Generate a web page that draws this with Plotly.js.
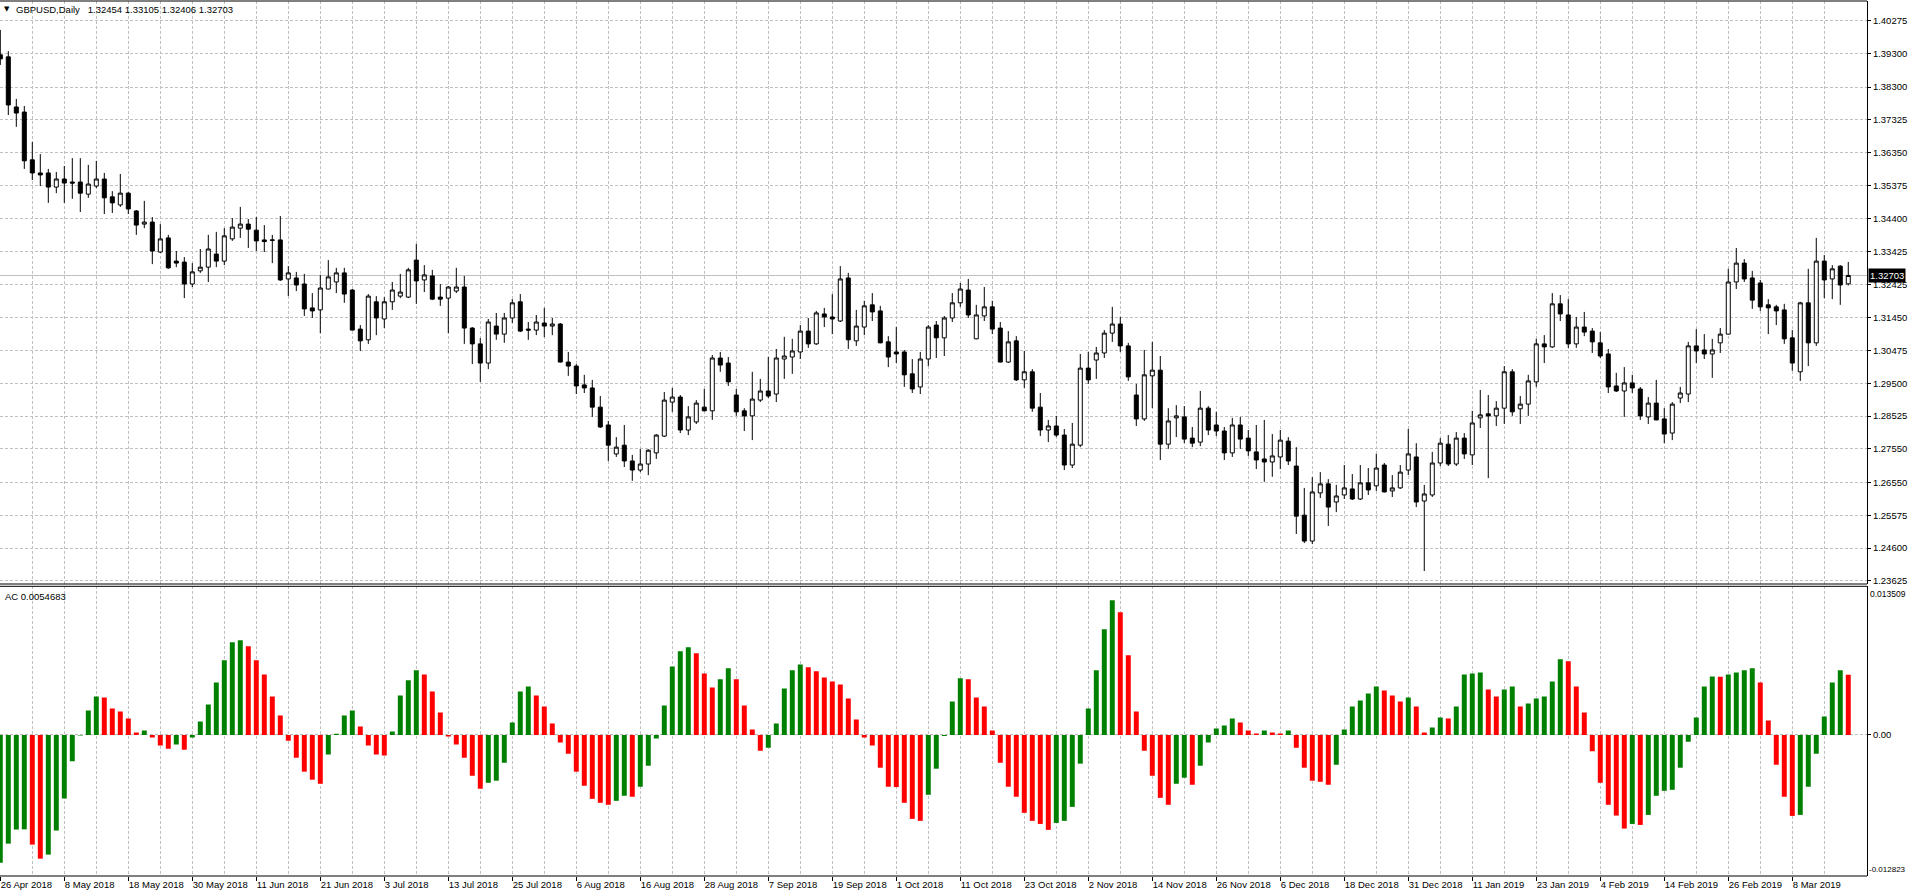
<!DOCTYPE html>
<html>
<head>
<meta charset="utf-8">
<script src="https://cdn.plot.ly/plotly-3.0.1.min.js"></script>
<style>html,body{margin:0;padding:0;background:#fff;}#chart{width:1909px;height:893px;}</style>
</head>
<body>
<div id="chart"></div>
<script>
// ---- data ----
const tickLabels = ["26 Apr 2018","8 May 2018","18 May 2018","30 May 2018","11 Jun 2018","21 Jun 2018","3 Jul 2018","13 Jul 2018","25 Jul 2018","6 Aug 2018","16 Aug 2018","28 Aug 2018","7 Sep 2018","19 Sep 2018","1 Oct 2018","11 Oct 2018","23 Oct 2018","2 Nov 2018","14 Nov 2018","26 Nov 2018","6 Dec 2018","18 Dec 2018","31 Dec 2018","11 Jan 2019","23 Jan 2019","4 Feb 2019","14 Feb 2019","26 Feb 2019","8 Mar 2019"];

const priceTicks = [1.40275,1.39300,1.38300,1.37325,1.36350,1.35375,1.34400,1.33425,1.32425,1.31450,1.30475,1.29500,1.28525,1.27550,1.26550,1.25575,1.24600,1.23625];

const open = [
1.3926,1.3920,1.3771,1.3756,1.3614,1.3575,1.3575,1.3533,1.3557,1.3548,
1.3548,1.3512,1.3536,1.3557,1.3504,1.3480,1.3515,1.3462,1.3423,1.3429,
1.3340,1.3382,1.3313,1.3310,1.3245,1.3284,1.3295,1.3334,1.3313,1.3379,
1.3411,1.3423,1.3405,1.3376,1.3376,1.3376,1.3260,1.3263,1.3245,1.3174,
1.3168,1.3230,1.3251,1.3278,1.3227,1.3111,1.3079,1.3192,1.3141,1.3192,
1.3209,1.3206,1.3316,1.3257,1.3269,1.3206,1.3203,1.3224,1.3236,1.3114,
1.3067,1.3010,1.3120,1.3096,1.3144,1.3192,1.3111,1.3108,1.3129,1.3120,
1.3126,1.3013,1.3001,1.2945,1.2936,1.2879,1.2826,1.2740,1.2766,1.2719,
1.2692,1.2710,1.2743,1.2793,1.2894,1.2909,1.2811,1.2835,1.2879,1.2868,
1.3025,1.3010,1.2915,1.2868,1.2853,1.2900,1.2927,1.2918,1.3022,1.3028,
1.3043,1.3105,1.3067,1.3156,1.3147,1.3135,1.3263,1.3076,1.3117,1.3183,
1.3165,1.3073,1.3043,1.3043,1.2978,1.2939,1.3022,1.3123,1.3085,1.3144,
1.3189,1.3227,1.3082,1.3150,1.3177,1.3114,1.3013,1.3076,1.2960,1.2984,
1.2879,1.2811,1.2823,1.2796,1.2707,1.2766,1.2995,1.3019,1.3040,1.3099,
1.3126,1.3061,1.2915,1.2844,1.2972,1.2989,1.2769,1.2847,1.2850,1.2787,
1.2775,1.2876,1.2826,1.2808,1.2743,1.2826,1.2787,1.2746,1.2725,1.2716,
1.2731,1.2778,1.2704,1.2558,1.2481,1.2624,1.2651,1.2597,1.2618,1.2636,
1.2606,1.2654,1.2645,1.2707,1.2630,1.2639,1.2692,1.2731,1.2600,1.2618,
1.2713,1.2769,1.2710,1.2787,1.2737,1.2847,1.2859,1.2853,1.2876,1.2984,
1.2874,1.2888,1.2954,1.3067,1.3058,1.3186,1.3153,1.3067,1.3117,1.3105,
1.3070,1.3037,1.2942,1.2927,1.2951,1.2933,1.2850,1.2891,1.2844,1.2802,
1.2906,1.2918,1.3061,1.3049,1.3037,1.3070,1.3096,1.3251,1.3307,1.3263,
1.3248,1.3183,1.3177,1.3168,1.3085,1.2984,1.3189,1.3070,1.3313,1.3260,
1.3298,1.32454];

const high = [
1.4000,1.3937,1.3795,1.3774,1.3667,1.3631,1.3587,1.3578,1.3596,1.3619,
1.3619,1.3599,1.3611,1.3575,1.3521,1.3572,1.3518,1.3465,1.3492,1.3444,
1.3423,1.3391,1.3343,1.3325,1.3307,1.3349,1.3391,1.3400,1.3411,1.3441,
1.3474,1.3438,1.3444,1.3420,1.3391,1.3447,1.3298,1.3281,1.3275,1.3218,
1.3272,1.3316,1.3293,1.3293,1.3230,1.3123,1.3215,1.3209,1.3206,1.3251,
1.3275,1.3293,1.3364,1.3301,1.3287,1.3245,1.3239,1.3293,1.3269,1.3117,
1.3084,1.3141,1.3159,1.3159,1.3200,1.3215,1.3132,1.3153,1.3174,1.3144,
1.3129,1.3043,1.3007,1.2975,1.2960,1.2912,1.2838,1.2790,1.2826,1.2737,
1.2755,1.2754,1.2799,1.2924,1.2936,1.2915,1.2882,1.2900,1.2933,1.3034,
1.3043,1.3028,1.2933,1.2876,1.2984,1.2963,1.3028,1.3052,1.3088,1.3082,
1.3123,1.3144,1.3165,1.3174,1.3215,1.3298,1.3278,1.3168,1.3195,1.3218,
1.3180,1.3090,1.3117,1.3049,1.3022,1.3043,1.3123,1.3135,1.3150,1.3218,
1.3248,1.3260,1.3183,1.3236,1.3195,1.3132,1.3105,1.3090,1.3046,1.2992,
1.2921,1.2841,1.2853,1.2814,1.2832,1.3037,1.3043,1.3058,1.3108,1.3177,
1.3147,1.3070,1.2948,1.3049,1.3073,1.3031,1.2876,1.2885,1.2882,1.2820,
1.2927,1.2882,1.2865,1.2820,1.2847,1.2850,1.2811,1.2826,1.2841,1.2799,
1.2811,1.2790,1.2760,1.2639,1.2671,1.2686,1.2665,1.2648,1.2707,1.2680,
1.2707,1.2698,1.2740,1.2713,1.2677,1.2707,1.2814,1.2772,1.2648,1.2746,
1.2787,1.2796,1.2805,1.2802,1.2868,1.2930,1.2915,1.2897,1.3001,1.2992,
1.2912,1.2975,1.3082,1.3093,1.3218,1.3212,1.3200,1.3147,1.3162,1.3114,
1.3102,1.3052,1.2981,1.2998,1.2975,1.2939,1.2909,1.2960,1.2876,1.2894,
1.2939,1.3073,1.3111,1.3096,1.3082,1.3114,1.3290,1.3352,1.3319,1.3284,
1.3257,1.3200,1.3183,1.3186,1.3108,1.3192,1.3290,1.3382,1.3331,1.3301,
1.3301,1.33105];

const low = [
1.3896,1.3747,1.3712,1.3587,1.3554,1.3536,1.3486,1.3515,1.3486,1.3498,
1.3459,1.3501,1.3530,1.3453,1.3456,1.3474,1.3453,1.3391,1.3411,1.3304,
1.3337,1.3290,1.3295,1.3203,1.3236,1.3278,1.3251,1.3295,1.3301,1.3373,
1.3382,1.3352,1.3343,1.3340,1.3307,1.3254,1.3209,1.3224,1.3150,1.3144,
1.3099,1.3229,1.3218,1.3189,1.3107,1.3046,1.3067,1.3093,1.3114,1.3168,
1.3203,1.3203,1.3186,1.3221,1.3197,1.3180,1.3099,1.3218,1.3067,1.3007,
1.2954,1.2992,1.3079,1.3070,1.3129,1.3102,1.3079,1.3093,1.3087,1.3093,
1.3012,1.2972,1.2918,1.2921,1.2850,1.2817,1.2719,1.2731,1.2701,1.2660,
1.2686,1.2677,1.2725,1.2790,1.2865,1.2802,1.2796,1.2829,1.2867,1.2841,
1.2984,1.2942,1.2853,1.2808,1.2781,1.2894,1.2906,1.2894,1.2963,1.2978,
1.3022,1.3055,1.3064,1.3117,1.3096,1.3132,1.3052,1.3061,1.3093,1.3135,
1.3069,1.2998,1.3010,1.2939,1.2921,1.2918,1.3001,1.3025,1.3031,1.3132,
1.3177,1.3144,1.3081,1.3135,1.3096,1.3012,1.3010,1.2957,1.2936,1.2865,
1.2793,1.2775,1.2790,1.2692,1.2698,1.2760,1.2948,1.2963,1.3025,1.3073,
1.3043,1.2957,1.2823,1.2838,1.2876,1.2722,1.2755,1.2790,1.2772,1.2760,
1.2763,1.2796,1.2793,1.2722,1.2731,1.2755,1.2734,1.2695,1.2657,1.2672,
1.2695,1.2707,1.2502,1.2475,1.2472,1.2609,1.2526,1.2567,1.2606,1.2603,
1.2603,1.2618,1.2630,1.2626,1.2612,1.2636,1.2677,1.2582,1.2392,1.2612,
1.2704,1.2704,1.2704,1.2725,1.2707,1.2817,1.2668,1.2823,1.2829,1.2853,
1.2829,1.2853,1.2939,1.3010,1.3055,1.3135,1.3055,1.3055,1.3090,1.3040,
1.3025,1.2921,1.2924,1.2850,1.2921,1.2841,1.2829,1.2840,1.2772,1.2781,
1.2891,1.2894,1.3010,1.3022,1.2966,1.3040,1.3095,1.3230,1.3251,1.3171,
1.3165,1.3096,1.3123,1.3067,1.2987,1.2957,1.3001,1.3061,1.3203,1.3200,
1.3183,1.32406];

const close = [
1.3914,1.3777,1.3753,1.3611,1.3575,1.3569,1.3533,1.3557,1.3545,1.3545,
1.3515,1.3542,1.3557,1.3501,1.3486,1.3515,1.3468,1.3420,1.3429,1.3343,
1.3379,1.3293,1.3307,1.3245,1.3281,1.3295,1.3349,1.3313,1.3388,1.3414,
1.3423,1.3408,1.3373,1.3371,1.3375,1.3257,1.3278,1.3242,1.3171,1.3165,
1.3233,1.3266,1.3278,1.3215,1.3108,1.3076,1.3209,1.3144,1.3192,1.3227,
1.3221,1.3287,1.3254,1.3272,1.3200,1.3200,1.3236,1.3236,1.3114,1.3067,
1.3010,1.3132,1.3096,1.3144,1.3189,1.3105,1.3108,1.3132,1.3120,1.3126,
1.3013,1.3001,1.2942,1.2936,1.2879,1.2820,1.2766,1.2760,1.2719,1.2692,
1.2710,1.2751,1.2796,1.2900,1.2909,1.2811,1.2850,1.2891,1.2868,1.3025,
1.3004,1.2954,1.2865,1.2853,1.2903,1.2927,1.2912,1.3025,1.3031,1.3046,
1.3105,1.3067,1.3159,1.3147,1.3141,1.3260,1.3079,1.3120,1.3180,1.3162,
1.3070,1.3028,1.3037,1.2975,1.2933,1.3022,1.3117,1.3085,1.3144,1.3189,
1.3230,1.3153,1.3153,1.3177,1.3111,1.3013,1.3073,1.2960,1.2984,1.2876,
1.2811,1.2823,1.2796,1.2707,1.2769,1.2995,1.2960,1.3040,1.3099,1.3126,
1.3061,1.2969,1.2844,1.2975,1.2989,1.2769,1.2838,1.2853,1.2784,1.2772,
1.2876,1.2811,1.2808,1.2743,1.2826,1.2784,1.2749,1.2722,1.2716,1.2734,
1.2781,1.2719,1.2555,1.2481,1.2627,1.2651,1.2582,1.2615,1.2639,1.2606,
1.2654,1.2633,1.2698,1.2627,1.2639,1.2686,1.2740,1.2597,1.2621,1.2713,
1.2772,1.2710,1.2787,1.2740,1.2832,1.2856,1.2853,1.2876,1.2984,1.2865,
1.2888,1.2957,1.3067,1.3058,1.3186,1.3156,1.3067,1.3117,1.3102,1.3073,
1.3031,1.2939,1.2927,1.2951,1.2936,1.2853,1.2891,1.2841,1.2799,1.2888,
1.2921,1.3061,1.3046,1.3037,1.3049,1.3096,1.3251,1.3307,1.3260,1.3197,
1.3177,1.3174,1.3165,1.3082,1.3010,1.3189,1.3070,1.3313,1.3257,1.3290,
1.3242,1.32703];

const ac = [
-0.01161,-0.00988,-0.00860,-0.00858,-0.00997,-0.01125,-0.01088,-0.00869,-0.00578,-0.00240,
-0.00005,0.00222,0.00350,0.00340,0.00240,0.00213,0.00149,0.00021,0.00040,-0.00024,
-0.00097,-0.00125,-0.00088,-0.00134,-0.00024,0.00122,0.00277,0.00477,0.00678,0.00842,
0.00860,0.00806,0.00678,0.00550,0.00350,0.00176,-0.00052,-0.00207,-0.00334,-0.00407,
-0.00444,-0.00179,0.00010,0.00176,0.00222,0.00076,-0.00097,-0.00179,-0.00188,0.00030,
0.00359,0.00496,0.00587,0.00550,0.00395,0.00204,-0.00015,-0.00088,-0.00207,-0.00371,
-0.00489,-0.00435,-0.00416,-0.00252,0.00112,0.00395,0.00441,0.00359,0.00258,0.00103,
-0.00070,-0.00170,-0.00334,-0.00462,-0.00581,-0.00617,-0.00635,-0.00599,-0.00553,-0.00562,
-0.00471,-0.00280,-0.00033,0.00268,0.00623,0.00760,0.00796,0.00742,0.00559,0.00432,
0.00505,0.00605,0.00505,0.00268,0.00049,-0.00143,-0.00116,0.00103,0.00423,0.00587,
0.00641,0.00614,0.00578,0.00523,0.00486,0.00459,0.00331,0.00140,-0.00024,-0.00097,
-0.00298,-0.00471,-0.00474,-0.00617,-0.00763,-0.00781,-0.00544,-0.00307,-0.00010,0.00304,
0.00514,0.00505,0.00340,0.00258,0.00040,-0.00252,-0.00471,-0.00562,-0.00708,-0.00781,
-0.00809,-0.00863,-0.00800,-0.00781,-0.00654,-0.00261,0.00240,0.00587,0.00961,0.01225,
0.01116,0.00724,0.00213,-0.00143,-0.00371,-0.00572,-0.00635,-0.00444,-0.00389,-0.00453,
-0.00280,-0.00070,0.00058,0.00085,0.00149,0.00112,0.00040,0.00012,0.00040,0.00021,
0.00012,0.00040,-0.00116,-0.00298,-0.00416,-0.00426,-0.00453,-0.00271,0.00049,0.00258,
0.00313,0.00377,0.00441,0.00404,0.00359,0.00304,0.00340,0.00258,0.00021,0.00067,
0.00158,0.00149,0.00258,0.00550,0.00559,0.00568,0.00413,0.00350,0.00413,0.00441,
0.00258,0.00286,0.00331,0.00350,0.00486,0.00687,0.00669,0.00441,0.00204,-0.00149,
-0.00435,-0.00635,-0.00733,-0.00851,-0.00809,-0.00818,-0.00727,-0.00553,-0.00508,-0.00499,
-0.00298,-0.00061,0.00158,0.00441,0.00532,0.00528,0.00550,0.00568,0.00587,0.00605,
0.00477,0.00131,-0.00271,-0.00562,-0.00736,-0.00727,-0.00471,-0.00170,0.00167,0.00477,
0.00587,0.0054683];

const acMax = 0.013509, acMin = -0.012823;
const symbol = "GBPUSD,Daily";

// ---- build ----
const idx = open.map((_, i) => i);
const barsPerLabel = 8;
const tickVals = tickLabels.map((_, k) => k * barsPerLabel);
const minorVals = tickVals.map(v => v + barsPerLabel / 2);

// AC colouring: green while rising, red while falling, unchanged keeps colour
let up = true;
const acColors = ac.map((v, i) => {
  if (i > 0) { if (v > ac[i-1]) up = true; else if (v < ac[i-1]) up = false; }
  return up ? '#008000' : '#ff0000';
});

const n = close.length;
const last = [open[n-1], high[n-1], low[n-1], close[n-1]].map(v => v.toFixed(5));

const GRID = '#c0c0c0';
const DASH = '3px,2px';
const FONT = 'Liberation Sans, Arial, sans-serif';
const FS = 9.5;

const traces = [
  {
    type: 'candlestick', x: idx, open: open, high: high, low: low, close: close,
    xaxis: 'x', yaxis: 'y',
    increasing: {line: {color: '#000000', width: 1}, fillcolor: '#ffffff'},
    decreasing: {line: {color: '#000000', width: 1}, fillcolor: '#000000'},
    whiskerwidth: 0, hoverinfo: 'skip', showlegend: false
  },
  {
    type: 'bar', x: idx, y: ac, xaxis: 'x', yaxis: 'y2',
    width: 0.62, marker: {color: acColors, line: {width: 0}},
    hoverinfo: 'skip', showlegend: false
  }
];

// plot area: top pixel 1, bottom pixel 876
const T = 1, B = 17, H = 893, PH = H - T - B;
const py = p => (H - B - p) / PH;   // pixel row -> paper fraction

const layout = {
  width: 1909, height: 893,
  margin: {l: 0, r: 42, t: T, b: B, pad: 0},
  paper_bgcolor: '#ffffff', plot_bgcolor: '#ffffff',
  showlegend: false,
  font: {family: FONT, size: FS, color: '#000000'},
  boxgap: 0.5, boxgroupgap: 0,
  xaxis: {
    range: [-0.0375, 233.34], anchor: 'y2', fixedrange: true,
    tickmode: 'array', tickvals: tickVals, ticktext: tickLabels,
    ticks: 'outside', ticklen: 4, tickcolor: '#000000', tickwidth: 1,
    ticklabelposition: 'outside right',
    tickfont: {family: FONT, size: FS, color: '#000000'},
    showgrid: true, gridcolor: GRID, griddash: DASH, gridwidth: 1,
    minor: {tickmode: 'array', tickvals: minorVals, showgrid: true, gridcolor: GRID, griddash: DASH, gridwidth: 1, ticks: ''},
    zeroline: false, showline: false,
    rangeslider: {visible: false}
  },
  yaxis: {
    domain: [py(584), 1], range: [1.23534, 1.40860], side: 'right', anchor: 'x', fixedrange: true,
    tickmode: 'array', tickvals: priceTicks, ticktext: priceTicks.map(v => v.toFixed(5)),
    ticks: 'outside', ticklen: 3, tickcolor: '#000000',
    tickfont: {family: FONT, size: FS, color: '#000000'},
    showgrid: true, gridcolor: GRID, griddash: DASH, gridwidth: 1,
    showline: true, linecolor: '#000000', linewidth: 1, zeroline: false
  },
  yaxis2: {
    domain: [0, py(586.3)], range: [acMin, acMax], side: 'right', anchor: 'x', fixedrange: true,
    tickmode: 'array', tickvals: [0], ticktext: ['0.00'],
    ticks: 'outside', ticklen: 3, tickcolor: '#000000',
    tickfont: {family: FONT, size: FS, color: '#000000'},
    showgrid: true, gridcolor: GRID, griddash: DASH, gridwidth: 1,
    showline: true, linecolor: '#000000', linewidth: 1, zeroline: false
  },
  shapes: [
    {type: 'line', xref: 'paper', x0: 0, x1: 1, yref: 'y', y0: close[n-1], y1: close[n-1], line: {color: '#c0c0c0', width: 1}, layer: 'between'},
    {type: 'line', xref: 'paper', x0: 0, x1: 1, yref: 'y domain', y0: 1, y1: 1, line: {color: '#000000', width: 1}},
    {type: 'line', xref: 'paper', x0: 0, x1: 1, yref: 'y domain', y0: 0, y1: 0, line: {color: '#000000', width: 1}},
    {type: 'line', xref: 'paper', x0: 0, x1: 1, yref: 'y2 domain', y0: 1, y1: 1, line: {color: '#000000', width: 1}},
    {type: 'line', xref: 'paper', x0: 0, x1: 1, yref: 'y2 domain', y0: 0, y1: 0, line: {color: '#000000', width: 1}}
  ],
  annotations: [
    {xref: 'paper', yref: 'paper', x: 0, y: py(9.5), xanchor: 'left', yanchor: 'middle', xshift: 2,
     text: '\u25BC', showarrow: false, font: {family: 'DejaVu Sans, sans-serif', size: 7, color: '#000000'}},
    {xref: 'paper', yref: 'paper', x: 0, y: py(9.5), xanchor: 'left', yanchor: 'middle', xshift: 14,
     text: symbol + '\u00A0\u00A0\u00A0' + last.join('\u00A0'), showarrow: false, font: {family: FONT, size: FS, color: '#000000'}},
    {xref: 'paper', yref: 'paper', x: 0, y: py(596), xanchor: 'left', yanchor: 'middle', xshift: 3,
     text: 'AC ' + ac[n-1].toFixed(7), showarrow: false, font: {family: FONT, size: FS, color: '#000000'}},
    {xref: 'paper', yref: 'paper', x: 1, y: py(593.5), xanchor: 'left', yanchor: 'middle', xshift: 1,
     text: acMax.toFixed(6), showarrow: false, font: {family: FONT, size: 8.5, color: '#000000'}},
    {xref: 'paper', yref: 'paper', x: 1, y: py(869.5), xanchor: 'left', yanchor: 'middle', xshift: 0,
     text: acMin.toFixed(6), showarrow: false, font: {family: FONT, size: 8, color: '#000000'}},
    {xref: 'paper', yref: 'y', x: 1, y: close[n-1], xanchor: 'left', yanchor: 'middle', xshift: 1,
     text: close[n-1].toFixed(5), showarrow: false, bgcolor: '#000000', borderpad: 1,
     font: {family: FONT, size: FS, color: '#ffffff'}}
  ]
};

Plotly.newPlot('chart', traces, layout, {staticPlot: true, displayModeBar: false, responsive: false});
</script>
</body>
</html>
